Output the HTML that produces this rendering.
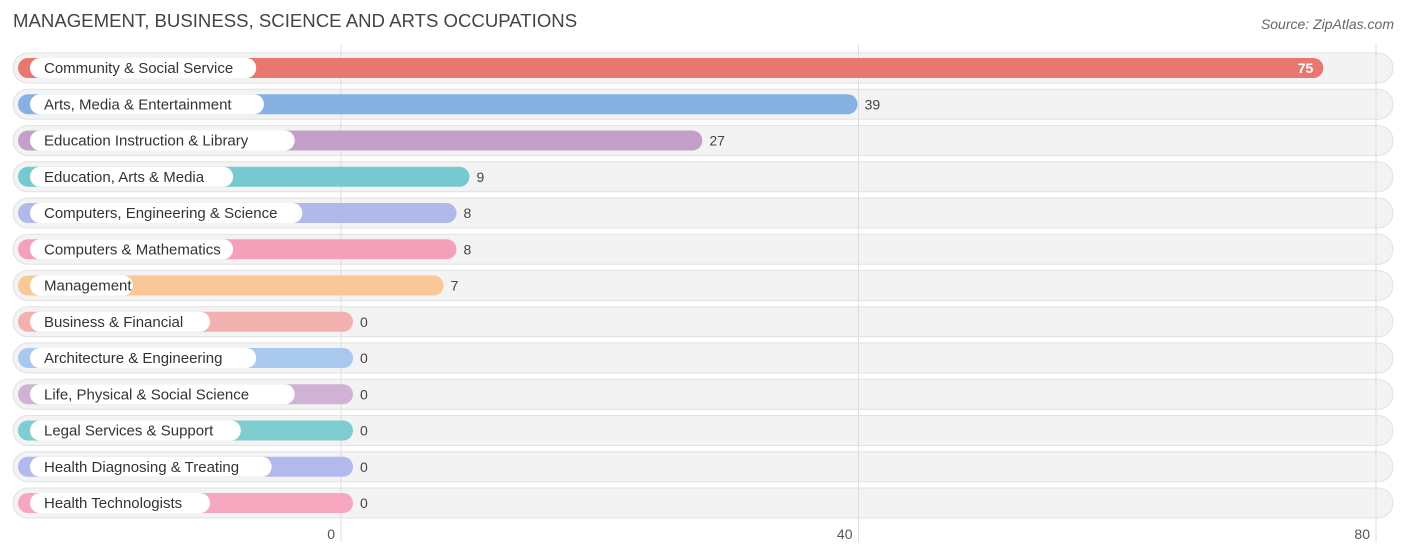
<!DOCTYPE html>
<html><head><meta charset="utf-8"><style>
body{margin:0;background:#fff;font-family:"Liberation Sans",sans-serif;}
svg{display:block}
</style></head><body>
<svg id="chart" width="1406" height="558" xmlns="http://www.w3.org/2000/svg">
<text x="13" y="27" font-size="18.6" fill="#444" font-family="Liberation Sans, sans-serif">MANAGEMENT, BUSINESS, SCIENCE AND ARTS OCCUPATIONS</text>
<text x="1394" y="29" font-size="14" fill="#666" font-style="italic" text-anchor="end" font-family="Liberation Sans, sans-serif">Source: ZipAtlas.com</text>
<g id="bgs"></g><g id="grid"></g><g id="rows"></g>
</svg>
<script>
const categories=["Community & Social Service","Arts, Media & Entertainment","Education Instruction & Library","Education, Arts & Media","Computers, Engineering & Science","Computers & Mathematics","Management","Business & Financial","Architecture & Engineering","Life, Physical & Social Science","Legal Services & Support","Health Diagnosing & Treating","Health Technologists"];
const values=[75,39,27,9,8,8,7,0,0,0,0,0,0];
const colors=["#e8776f","#85b1e3","#c39fca","#76c9cf","#b1b8ea","#f4a0bb","#f9c896","#f2b0ae","#a8c8ee","#d0b2d5","#7dcdd1","#b2b9ec","#f7a6c0"];
const ticks=[0,40,80];
const NS="http://www.w3.org/2000/svg";
const x=v=>341+v*(1376-341)/80;
const y=i=>68+i*36.25;
function mk(t,a,p){const e=document.createElementNS(NS,t);for(const k in a)e.setAttribute(k,a[k]);p.appendChild(e);return e;}
const bgs=document.getElementById('bgs'),grid=document.getElementById('grid'),rows=document.getElementById('rows');
ticks.forEach(t=>{
 const l=mk('line',{x1:x(t),x2:x(t),y1:45,y2:542,stroke:'#ddd','stroke-width':1},grid);
 
 
 const tx=mk('text',{x:x(t)-6,y:539,'font-size':14,fill:'#555','text-anchor':'end'},grid);
 tx.textContent=t;
 
 
});
categories.forEach((c,i)=>{
 const cy=y(i);
 const bg=mk('rect',{x:13,y:cy-15,width:1380,height:30,rx:15,fill:'#f3f3f3',stroke:'#e2e2e2'},bgs);
 
 
 const g=mk('g',{},rows);
 
 
 const end=x(values[i])+12;
 const b=mk('rect',{x:18,y:cy-10,width:end-18,height:20,rx:10,fill:colors[i]},g);
 
 
 const tw=c.length*7.7+26;
 const lp=mk('rect',{x:30,y:cy-10,width:tw,height:20,rx:10,fill:'#fff'},g);
 
 
 const lt=mk('text',{x:44,y:cy+5,'font-size':15,fill:'#333'},g);
 lt.textContent=c;
 
 
 const inside=values[i]>60;
 const vt=mk('text',{x:inside?end-10:end+7,y:cy+5,'font-size':14,fill:inside?'#fff':'#444','text-anchor':inside?'end':'start','font-weight':inside?'bold':'normal'},g);
 vt.textContent=values[i];
 
 
});
</script>
</body></html>
